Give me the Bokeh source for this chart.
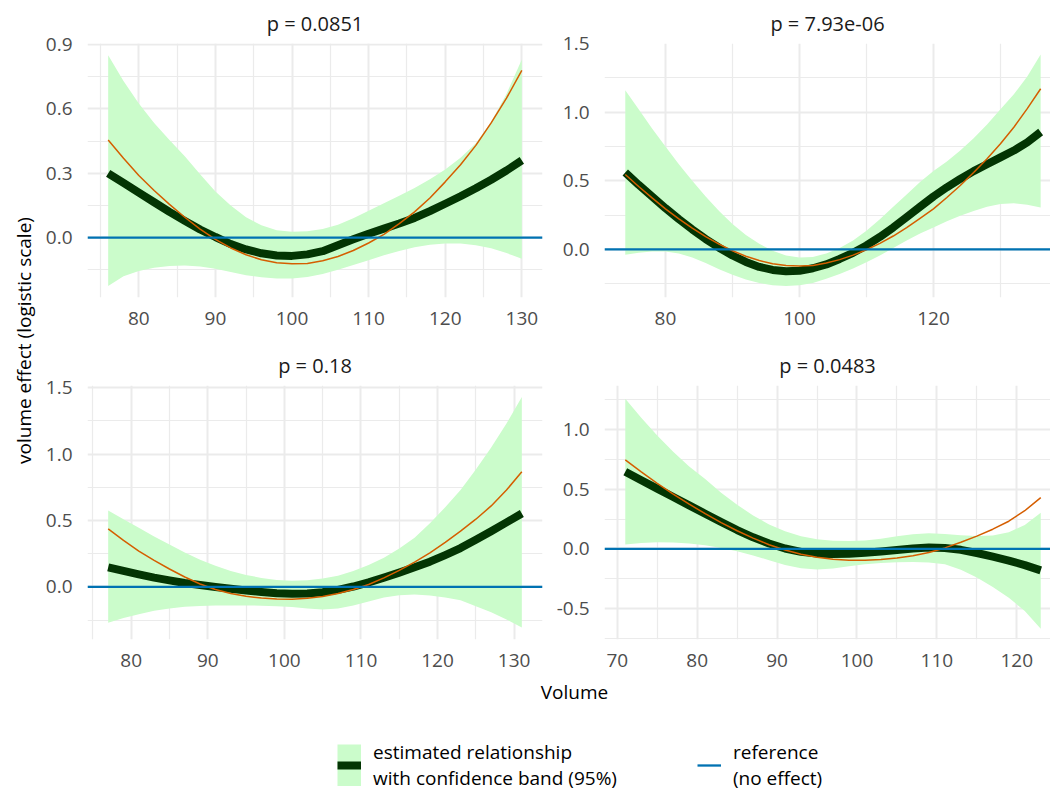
import math
from bokeh.plotting import figure
from bokeh.layouts import row, column
from bokeh.models import (Range1d, FixedTicker, PrintfTickFormatter, Span, Legend,
                          LegendItem, Label, ColumnDataSource)
from bokeh.embed import file_html
from bokeh.resources import INLINE

# ---------------- data ----------------
strip_labels = ["p = 0.0851", "p = 7.93e-06", "p = 0.18", "p = 0.0483"]
reference_level = 0.0

# panel A (top-left)
vol_a = [76, 78, 80, 82, 84, 86, 88, 90, 92, 94, 96, 98, 100, 102, 104, 106, 108, 110,
         112, 114, 116, 118, 120, 122, 124, 126, 128, 130]
fit_a = [0.30, 0.255, 0.21, 0.165, 0.12, 0.078, 0.038, 0.003, -0.03, -0.055, -0.073, -0.083,
         -0.085, -0.078, -0.063, -0.035, -0.008, 0.018, 0.042, 0.066, 0.092, 0.124, 0.158,
         0.193, 0.23, 0.27, 0.313, 0.36]
quad_a = [0.455, 0.37, 0.29, 0.22, 0.155, 0.095, 0.04, -0.008, -0.048, -0.08, -0.103, -0.117,
          -0.122, -0.12, -0.108, -0.088, -0.06, -0.025, 0.015, 0.065, 0.12, 0.185, 0.26,
          0.34, 0.43, 0.535, 0.65, 0.78]
upper_a = [0.85, 0.73, 0.625, 0.535, 0.455, 0.38, 0.295, 0.215, 0.15, 0.095, 0.058, 0.035,
           0.028, 0.03, 0.04, 0.06, 0.09, 0.125, 0.16, 0.195, 0.232, 0.272, 0.318, 0.372,
           0.44, 0.54, 0.67, 0.83]
lower_a = [-0.225, -0.18, -0.155, -0.14, -0.132, -0.13, -0.135, -0.145, -0.16, -0.175, -0.185,
           -0.19, -0.19, -0.183, -0.17, -0.15, -0.128, -0.105, -0.082, -0.062, -0.045, -0.033,
           -0.027, -0.027, -0.035, -0.05, -0.072, -0.098]

# panel B (top-right)
vol_b = [74, 76, 78, 80, 82, 84, 86, 88, 90, 92, 94, 96, 98, 100, 102, 104, 106, 108, 110,
         112, 114, 116, 118, 120, 122, 124, 126, 128, 130, 132, 134, 136]
fit_b = [0.56, 0.47, 0.385, 0.3, 0.22, 0.145, 0.075, 0.012, -0.045, -0.092, -0.128, -0.15,
         -0.16, -0.156, -0.138, -0.11, -0.07, -0.025, 0.028, 0.09, 0.16, 0.235, 0.31, 0.385,
         0.452, 0.513, 0.57, 0.62, 0.67, 0.72, 0.78, 0.855]
quad_b = [0.545, 0.458, 0.375, 0.295, 0.222, 0.155, 0.093, 0.038, -0.01, -0.05, -0.082,
          -0.105, -0.118, -0.122, -0.117, -0.1, -0.075, -0.042, -0.003, 0.043, 0.097, 0.158,
          0.225, 0.295, 0.378, 0.465, 0.56, 0.66, 0.77, 0.89, 1.025, 1.17]
upper_b = [1.16, 1.02, 0.88, 0.75, 0.62, 0.5, 0.385, 0.28, 0.185, 0.105, 0.04, -0.01, -0.045,
           -0.06, -0.055, -0.03, 0.01, 0.065, 0.135, 0.22, 0.31, 0.4, 0.49, 0.57, 0.64, 0.72,
           0.81, 0.91, 1.02, 1.13, 1.26, 1.42]
lower_b = [-0.04, -0.025, -0.015, -0.015, -0.03, -0.06, -0.1, -0.145, -0.185, -0.22, -0.245,
           -0.262, -0.268, -0.262, -0.245, -0.215, -0.18, -0.14, -0.095, -0.045, 0.01, 0.065,
           0.115, 0.16, 0.205, 0.245, 0.28, 0.31, 0.33, 0.335, 0.325, 0.305]

# panel C (bottom-left)
vol_c = [77, 79, 81, 83, 85, 87, 89, 91, 93, 95, 97, 99, 101, 103, 105, 107, 109, 111, 113,
         115, 117, 119, 121, 123, 125, 127, 129, 131]
fit_c = [0.148, 0.12, 0.094, 0.07, 0.049, 0.03, 0.014, 0.0, -0.014, -0.027, -0.038, -0.047,
         -0.052, -0.05, -0.04, -0.022, 0.003, 0.034, 0.07, 0.108, 0.148, 0.19, 0.24, 0.293,
         0.355, 0.42, 0.486, 0.553]
quad_c = [0.437, 0.35, 0.27, 0.2, 0.135, 0.075, 0.022, -0.02, -0.05, -0.07, -0.084, -0.091,
          -0.092, -0.086, -0.072, -0.05, -0.02, 0.018, 0.068, 0.125, 0.187, 0.257, 0.335,
          0.42, 0.51, 0.61, 0.73, 0.867]
upper_c = [0.575, 0.51, 0.445, 0.38, 0.32, 0.26, 0.205, 0.16, 0.12, 0.09, 0.068, 0.052, 0.047,
           0.05, 0.063, 0.085, 0.12, 0.165, 0.22, 0.29, 0.37, 0.48, 0.6, 0.73, 0.885, 1.05,
           1.23, 1.43]
lower_c = [-0.27, -0.235, -0.205, -0.18, -0.162, -0.15, -0.143, -0.14, -0.139, -0.139, -0.141,
           -0.145, -0.152, -0.162, -0.17, -0.162, -0.14, -0.11, -0.08, -0.062, -0.058, -0.065,
           -0.08, -0.1, -0.145, -0.19, -0.245, -0.305]

# panel D (bottom-right)
vol_d = [71, 73, 75, 77, 79, 81, 83, 85, 87, 89, 91, 93, 95, 97, 99, 101, 103, 105, 107, 109,
         111, 113, 115, 117, 119, 121, 123]
fit_d = [0.646, 0.575, 0.505, 0.435, 0.365, 0.295, 0.225, 0.158, 0.097, 0.045, 0.003, -0.025,
         -0.04, -0.044, -0.041, -0.033, -0.022, -0.009, 0.004, 0.011, 0.008, -0.008, -0.035,
         -0.065, -0.098, -0.136, -0.18]
quad_d = [0.747, 0.645, 0.55, 0.46, 0.375, 0.295, 0.22, 0.152, 0.09, 0.035, -0.01, -0.045,
          -0.07, -0.087, -0.095, -0.096, -0.09, -0.077, -0.057, -0.03, 0.008, 0.055, 0.107,
          0.165, 0.232, 0.32, 0.43]
upper_d = [1.258, 1.1, 0.95, 0.815, 0.69, 0.585, 0.47, 0.37, 0.28, 0.205, 0.148, 0.105, 0.08,
           0.068, 0.065, 0.07, 0.085, 0.105, 0.122, 0.13, 0.125, 0.115, 0.108, 0.112, 0.14,
           0.2, 0.303]
lower_d = [0.037, 0.05, 0.055, 0.053, 0.045, 0.03, 0.008, -0.02, -0.055, -0.095, -0.135,
           -0.162, -0.174, -0.165, -0.145, -0.128, -0.118, -0.112, -0.11, -0.115, -0.13,
           -0.175, -0.24, -0.32, -0.41, -0.52, -0.67]

# axis ticks (labels shown on the axes)
xticks_a = [80, 90, 100, 110, 120, 130]
xticks_b = [80, 100, 120]
xticks_c = [80, 90, 100, 110, 120, 130]
xticks_d = [70, 80, 90, 100, 110, 120]
yticks_a = [0.0, 0.3, 0.6, 0.9]
yticks_b = [0.0, 0.5, 1.0, 1.5]
yticks_c = [0.0, 0.5, 1.0, 1.5]
yticks_d = [-0.5, 0.0, 0.5, 1.0]

y_title = "volume effect (logistic scale)"
x_title = "Volume"
legend_labels = ["estimated relationship\nwith confidence band (95%)", "reference\n(no effect)"]

# ---------------- styling ----------------
FONT = "Open Sans"
FS = "19px"
FS_STRIP = "20px"
BAND = "#cbfccb"
FIT = "#033503"
QUAD = "#d55e00"
REF = "#0072b2"
GRID = "#ebebeb"


def minor_between(ticks, lo, hi):
    step = ticks[1] - ticks[0]
    out = []
    t = ticks[0] - step / 2.0
    while t > lo:
        t -= step
    while t < hi:
        out.append(round(t, 6))
        t += step
    return out


def panel(title, x, lo, hi, fit, quad, xr, yr, xt, yt, borders, fw, fh):
    left, right, top, bottom = borders
    p = figure(frame_width=fw, frame_height=fh, x_range=Range1d(*xr), y_range=Range1d(*yr),
               output_backend="svg", toolbar_location=None,
               min_border_left=left, min_border_right=right,
               min_border_top=top, min_border_bottom=bottom, title=title)
    p.title.align = "center"
    p.title.text_font = FONT
    p.title.text_font_size = FS_STRIP
    p.title.text_font_style = "normal"
    p.title.text_color = "#1a1a1a"
    p.title.standoff = 14
    p.outline_line_color = None
    p.background_fill_color = "white"
    p.border_fill_color = "white"

    p.xaxis.ticker = FixedTicker(ticks=xt, minor_ticks=minor_between(xt, xr[0], xr[1]))
    p.yaxis.ticker = FixedTicker(ticks=yt, minor_ticks=minor_between(yt, yr[0], yr[1]))
    p.yaxis.formatter = PrintfTickFormatter(format="%.1f")
    for ax in p.axis:
        ax.axis_line_color = None
        ax.major_tick_line_color = None
        ax.minor_tick_line_color = None
        ax.major_label_text_font = FONT
        ax.major_label_text_font_size = FS
        ax.major_label_text_color = "#4d4d4d"
    p.xaxis.major_label_standoff = 8
    p.yaxis.major_label_standoff = 9
    for g in (p.xgrid, p.ygrid):
        g.grid_line_color = GRID
        g.grid_line_width = 2
        g.minor_grid_line_color = GRID
        g.minor_grid_line_width = 1.2

    src = ColumnDataSource(dict(x=x, lo=lo, hi=hi, fit=fit, quad=quad))
    p.varea(x="x", y1="lo", y2="hi", source=src, fill_color=BAND, fill_alpha=1.0)
    p.line(x="x", y="fit", source=src, line_color=FIT, line_width=8, line_join="round")
    p.add_layout(Span(location=reference_level, dimension="width", line_color=REF,
                      line_width=2.3, level="glyph"))
    p.line(x="x", y="quad", source=src, line_color=QUAD, line_width=1.5, line_join="round")
    return p


FW_L, FW_R, FH = 455, 446, 254
pA = panel(strip_labels[0], vol_a, lower_a, upper_a, fit_a, quad_a, (73.3, 132.7),
           (-0.279, 0.905), xticks_a, yticks_a, (49, 10, 42, 40), FW_L, FH)
pB = panel(strip_labels[1], vol_b, lower_b, upper_b, fit_b, quad_b, (70.9, 137.47),
           (-0.351, 1.50), xticks_b, yticks_b, (52, 0, 42, 40), FW_R, FH)
pC = panel(strip_labels[2], vol_c, lower_c, upper_c, fit_c, quad_c, (74.3, 133.7),
           (-0.396, 1.517), xticks_c, yticks_c, (49, 10, 48, 40), FW_L, FH)
pD = panel(strip_labels[3], vol_d, lower_d, upper_d, fit_d, quad_d, (68.4, 124.22),
           (-0.76, 1.37), xticks_d, yticks_d, (52, 0, 48, 40), FW_R, FH)

# y-axis title strip (coordinates = page pixels)
ylab = figure(width=38, height=678, x_range=Range1d(0, 38), y_range=Range1d(678, 0),
              output_backend="svg", toolbar_location=None, x_axis_type=None, y_axis_type=None,
              min_border=0)
ylab.outline_line_color = None
ylab.grid.visible = False
ylab.add_layout(Label(x=23, y=340, text=y_title, angle=math.pi / 2, text_align="center",
                      text_baseline="middle", text_font=FONT, text_font_size=FS,
                      text_color="black"))

# bottom strip: x title + legend (coordinates = page pixels)
bot = figure(width=1050, height=112, x_range=Range1d(0, 1050), y_range=Range1d(790, 678),
             output_backend="svg", toolbar_location=None, x_axis_type=None, y_axis_type=None,
             min_border=0)
bot.outline_line_color = None
bot.grid.visible = False
bot.add_layout(Label(x=574, y=690, text=x_title, text_align="center", text_baseline="middle",
                     text_font=FONT, text_font_size=FS, text_color="black"))
# legend proxies: drawn from the panel A data, which lies outside this strip's ranges
r_band = bot.line(x=vol_a, y=fit_a, line_color=BAND, line_width=42)
r_fit = bot.line(x=vol_a, y=fit_a, line_color=FIT, line_width=8)
r_ref = bot.line(x=vol_a, y=[reference_level] * len(vol_a), line_color=REF, line_width=2.3)
leg = Legend(items=[LegendItem(label=legend_labels[0], renderers=[r_band, r_fit]),
                    LegendItem(label=legend_labels[1], renderers=[r_ref])],
             orientation="horizontal", location=(337, 0), padding=0, margin=0,
             spacing=80, glyph_width=24, glyph_height=42, label_standoff=12,
             label_text_font=FONT, label_text_font_size=FS, label_text_color="black",
             label_text_line_height=1.1, label_height=42,
             border_line_color=None, background_fill_alpha=0)
bot.add_layout(leg)

layout = column(row(ylab, column(row(pA, pB), row(pC, pD))), bot)

open("out.html", "w").write(file_html(layout, INLINE))
